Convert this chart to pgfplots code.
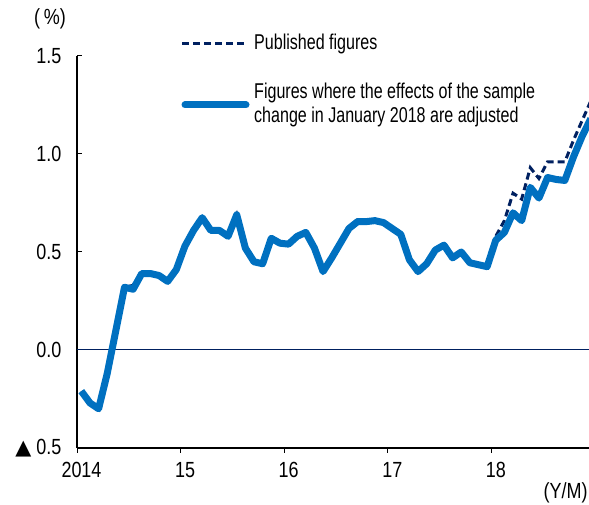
\documentclass[border=0pt]{standalone}
\usepackage{pgfplots}
\pgfplotsset{compat=1.18}
\usepackage{fontspec}
\setmainfont{Liberation Sans}[FakeStretch=0.75]
\newfontfamily\tickfont{Liberation Sans}[FakeStretch=0.82]
\newfontfamily\dejavu{DejaVu Sans}[Scale=0.95]

\definecolor{adjblue}{HTML}{0070C0}
\definecolor{pubnavy}{HTML}{002060}

\begin{document}
\begin{tikzpicture}[x=1bp,y=1bp]
\path[use as bounding box] (0,0) rectangle (589,505);

\begin{axis}[
    at={(77bp,57bp)}, anchor=south west,
    scale only axis,
    width=512bp, height=392bp,
    xmin=-0.5, xmax=58.8,
    ymin=-0.5, ymax=1.5,
    axis x line=bottom, axis y line=left,
    axis line style={-, line width=1.1bp},
    tick align=inside,
    major tick length=5bp,
    tick style={black, line width=1bp},
    xtick style={yshift=-5bp},
    xtick={-0.5,11.5,23.5,35.5,47.5},
    xticklabels={2014,15,16,17,18},
    ytick={-0.5,0,0.5,1,1.5},
    yticklabels={{{\dejavu ▲}\ 0.5},0.0,0.5,1.0,1.5},
    tick label style={font=\tickfont\fontsize{22}{24}\selectfont},
    yticklabel style={xshift=-12bp},
    xticklabel style={yshift=-11bp, xshift=4.5bp},
    clip=true,
]
% zero line
\addplot[pubnavy, line width=1bp] coordinates {(-0.5,0) (58.8,0)};

% published figures
\addplot[pubnavy, line width=3bp, dash pattern=on 7bp off 4bp] coordinates {
(0,-0.21) (1,-0.27) (2,-0.30) (3,-0.12) (4,0.10) (5,0.32) (6,0.33) (7,0.40)
(8,0.40) (9,0.38) (10,0.35) (11,0.41) (12,0.53) (13,0.61) (14,0.675) (15,0.61)
(16,0.61) (17,0.58) (18,0.69) (19,0.52) (20,0.45) (21,0.44) (22,0.57) (23,0.545)
(24,0.54) (25,0.58) (26,0.60) (27,0.52) (28,0.40) (29,0.47) (30,0.545) (31,0.62)
(32,0.665) (33,0.66) (34,0.66) (35,0.65) (36,0.62) (37,0.59) (38,0.46) (39,0.40)
(40,0.44) (41,0.51) (42,0.535) (43,0.47) (44,0.50) (45,0.445) (46,0.435) (47,0.425)
(48,0.58) (49,0.66) (50,0.80) (51,0.77) (52,0.93) (53,0.875) (54,0.96) (55,0.96)
(56,0.96) (57,1.07) (58,1.17) (59,1.27)
};

% adjusted figures
\addplot[adjblue, line width=7bp, line join=round] coordinates {
(0,-0.21) (1,-0.27) (2,-0.30) (3,-0.12) (4,0.10) (5,0.32) (6,0.31) (7,0.39)
(8,0.39) (9,0.38) (10,0.35) (11,0.41) (12,0.53) (13,0.61) (14,0.675) (15,0.61)
(16,0.61) (17,0.58) (18,0.69) (19,0.52) (20,0.45) (21,0.44) (22,0.57) (23,0.545)
(24,0.54) (25,0.58) (26,0.60) (27,0.52) (28,0.40) (29,0.47) (30,0.545) (31,0.62)
(32,0.655) (33,0.655) (34,0.66) (35,0.65) (36,0.62) (37,0.59) (38,0.46) (39,0.40)
(40,0.44) (41,0.51) (42,0.535) (43,0.47) (44,0.50) (45,0.445) (46,0.435) (47,0.425)
(48,0.56) (49,0.60) (50,0.70) (51,0.66) (52,0.83) (53,0.775) (54,0.88) (55,0.87)
(56,0.865) (57,0.985) (58,1.09) (59,1.18)
};
\end{axis}

% axis captions
\node[font=\tickfont\fontsize{22}{24}\selectfont] at (50,486) {(\,\%)};
\node[font=\tickfont\fontsize{22}{24}\selectfont, anchor=east] at (591,12) {(Y/M)};

% legend
\draw[pubnavy, line width=3bp, dash pattern=on 7bp off 4bp] (182,461) -- (247,461);
\node[anchor=west, font=\fontsize{21.5}{25}\selectfont, inner sep=0pt] at (254,461) {Published figures};
\draw[adjblue, line width=7bp, line cap=round] (185,400) -- (246,400);
\node[anchor=west, align=left, font=\fontsize{21.5}{25}\selectfont, inner sep=0pt] at (254,400)
  {Figures where the effects of the sample\\change in January 2018 are adjusted};
\end{tikzpicture}
\end{document}
